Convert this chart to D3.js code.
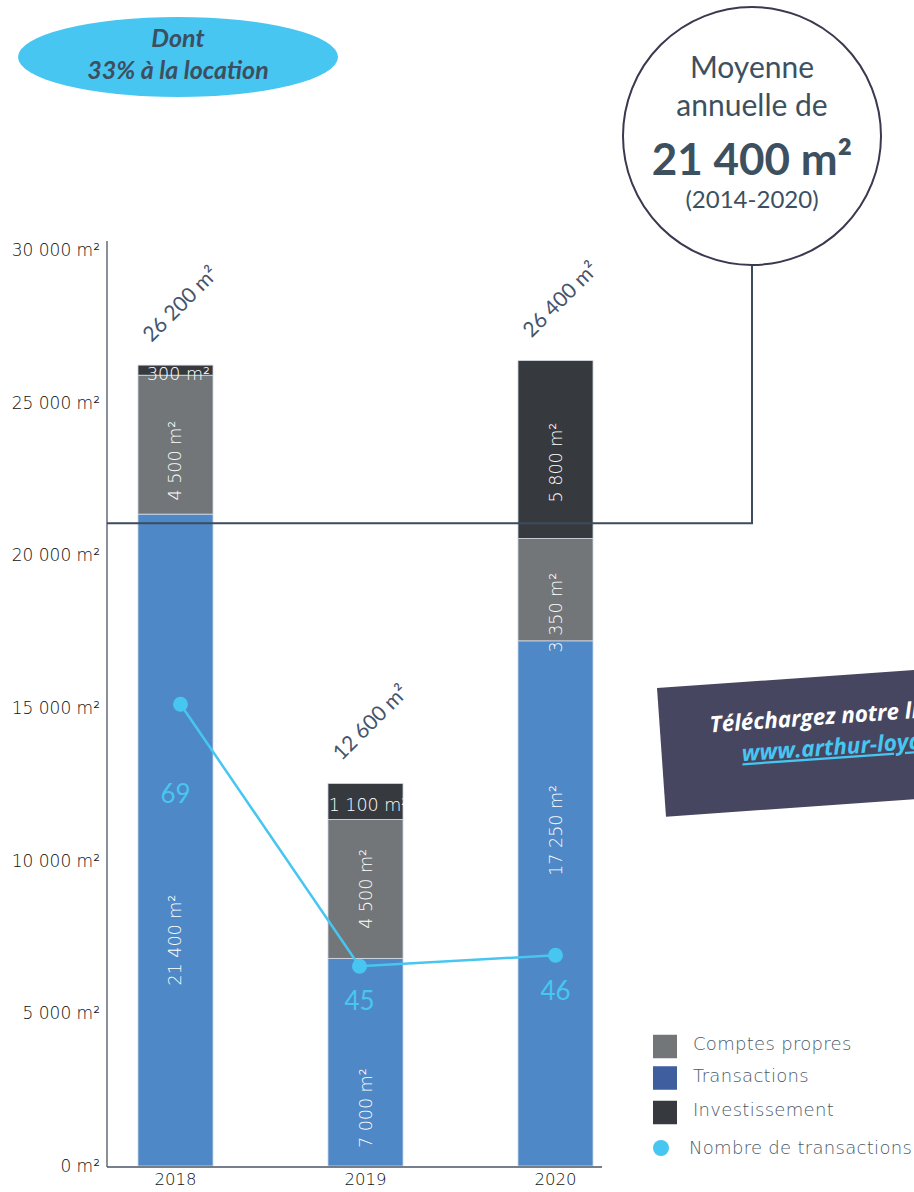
<!DOCTYPE html>
<html>
<head>
<meta charset="utf-8">
<script src="https://cdn.jsdelivr.net/npm/d3@7"></script>
<style>
  html, body { margin: 0; padding: 0; background: #ffffff; overflow: hidden; }
  svg { display: block; }
</style>
</head>
<body>
<script>
// ---------- DATA ----------
const years = ["2018", "2019", "2020"];
const transactions = [21350, 6800, 17200];
const comptesPropres = [4550, 4550, 3350];
const investissement = [330, 1180, 5830];
const transactionsLabels = ["21 400 m²", "7 000 m²", "17 250 m²"];
const comptesLabels = ["4 500 m²", "4 500 m²", "3 350 m²"];
const investLabels = ["300 m²", "1 100 m²", "5 800 m²"];
const totalLabels = ["26 200 m²", "12 600 m²", "26 400 m²"];
const nbTransactions = [69, 45, 46];
const yTicks = [0, 5000, 10000, 15000, 20000, 25000, 30000];
const yTickLabels = ["0 m²", "5 000 m²", "10 000 m²", "15 000 m²", "20 000 m²", "25 000 m²", "30 000 m²"];
const averageValue = 21050;
const legendLabels = ["Comptes propres", "Transactions", "Investissement", "Nombre de transactions"];

// ---------- LAYOUT (not data) ----------
const W = 914, H = 1192;
const colors = { trans: "#4f88c6", comptes: "#727679", invest: "#363a3e", line: "#47c6f2" };
const legendColors = ["#727679", "#3f5ea0", "#363a3e"];
const transLabelDy = [100, 46, -73];
const comptesLabelDy = [16, 0, 23];
const investLabelDy = [4, 4, 13];
const countLabelDy = [89, 34, 35];
const pointDx = [5, -6, 0];

const svg = d3.select("body").append("svg").attr("width", W).attr("height", H);

const x = d3.scaleBand().domain(years).range([107, 624]).paddingInner(0.605).paddingOuter(0.163);
const y = d3.scaleLinear().domain([0, 30000]).range([1166, 250]);
const yCount = d3.scaleLinear().domain([26.7, 110.6]).range([1166, 250]);

const table = years.map((yr, i) => ({
  year: yr, trans: transactions[i], comptes: comptesPropres[i], invest: investissement[i]
}));
const keys = ["trans", "comptes", "invest"];
const series = d3.stack().keys(keys)(table);

// Bars
const g = svg.append("g");
series.forEach(s => {
  g.selectAll(null).data(s).enter().append("rect")
    .attr("x", d => x(d.data.year))
    .attr("width", x.bandwidth())
    .attr("y", d => y(d[1]))
    .attr("height", d => y(d[0]) - y(d[1]))
    .attr("fill", colors[s.key])
    .attr("stroke", "#d5dde8").attr("stroke-width", 0.8);
});

// Segment labels
const segFont = "'DejaVu Sans', sans-serif";
function segLabel(s, labels, dys) {
  s.forEach((d, i) => {
    const cx = x(d.data.year) + x.bandwidth() / 2;
    const cy = (y(d[0]) + y(d[1])) / 2 + dys[i];
    const h = y(d[0]) - y(d[1]);
    const t = svg.append("text")
      .attr("fill", "#ffffff")
      .attr("font-family", segFont)
      .attr("font-size", 17.5)
      .attr("font-weight", 300)
      .attr("text-anchor", "middle")
      .attr("dominant-baseline", "central")
      .text(labels[i]);
    if (h > 60) {
      t.attr("transform", `translate(${cx},${cy}) rotate(-90)`);
    } else {
      t.attr("x", cx + 3).attr("y", cy);
    }
  });
}
segLabel(series[0], transactionsLabels, transLabelDy);
segLabel(series[1], comptesLabels, comptesLabelDy);
segLabel(series[2], investLabels, investLabelDy);

// Total labels (rotated -45)
series[2].forEach((d, i) => {
  const cx = x(d.data.year) + x.bandwidth() / 2 + 4;
  const cy = y(d[1]) - 62;
  svg.append("text")
    .attr("transform", `translate(${cx},${cy}) rotate(-45)`)
    .attr("text-anchor", "middle")
    .attr("dominant-baseline", "central")
    .attr("font-family", "Lato, 'Open Sans', sans-serif")
    .attr("font-size", 21)
    .attr("fill", "#44546a")
    .text(totalLabels[i]);
});

// Axes
const yAxis = d3.axisLeft(y).tickValues(yTicks).tickSize(0).tickPadding(7)
  .tickFormat((d, i) => yTickLabels[i]);
const ya = svg.append("g").attr("transform", "translate(107,0)").call(yAxis);
ya.select(".domain").remove();
ya.selectAll("text").attr("font-family", segFont).attr("font-size", 17).attr("font-weight", 300).attr("fill", "#111111");
svg.append("line").attr("x1", 107).attr("x2", 107).attr("y1", y(30000) - 9).attr("y2", y(0) + 1)
  .attr("stroke", "#4a5563").attr("stroke-width", 1.3);

const xAxis = d3.axisBottom(x).tickSize(0).tickPadding(6);
const xa = svg.append("g").attr("transform", `translate(0,${y(0) + 1})`).call(xAxis);
xa.select(".domain").remove();
xa.selectAll("text").attr("font-family", segFont).attr("font-size", 16.5).attr("font-weight", 300).attr("fill", "#111111");
svg.append("line").attr("x1", 107).attr("x2", 602).attr("y1", y(0) + 1).attr("y2", y(0) + 1)
  .attr("stroke", "#4a5563").attr("stroke-width", 1.3);

// Average line + connector to circle
const circ = { cx: 752, cy: 136, r: 129 };
svg.append("path")
  .attr("d", `M107,${y(averageValue)} H${circ.cx} V${circ.cy + circ.r}`)
  .attr("fill", "none").attr("stroke", "#3d4b5c").attr("stroke-width", 2);

// Line series (nombre de transactions)
const linePts = nbTransactions.map((v, i) => [x(years[i]) + x.bandwidth() / 2 + pointDx[i], yCount(v)]);
svg.append("path").attr("d", d3.line()(linePts))
  .attr("fill", "none").attr("stroke", colors.line).attr("stroke-width", 2.5);
svg.selectAll(null).data(linePts).enter().append("circle")
  .attr("cx", d => d[0]).attr("cy", d => d[1]).attr("r", 7.5).attr("fill", colors.line);
svg.selectAll(null).data(linePts).enter().append("text")
  .attr("x", (d, i) => x(years[i]) + x.bandwidth() / 2 - (i === 1 ? 6 : 0)).attr("y", (d, i) => d[1] + countLabelDy[i])
  .attr("text-anchor", "middle").attr("dominant-baseline", "central")
  .attr("font-family", "Lato, 'Open Sans', sans-serif").attr("font-size", 26)
  .attr("fill", colors.line)
  .text((d, i) => nbTransactions[i]);

// Circle annotation
svg.append("circle").attr("cx", circ.cx).attr("cy", circ.cy).attr("r", circ.r)
  .attr("fill", "#ffffff").attr("stroke", "#3b3850").attr("stroke-width", 2);
const cText = [
  { t: "Moyenne", y: 66, s: 30, w: 400 },
  { t: "annuelle de", y: 104, s: 30, w: 400 },
  { t: "21 400 m²", y: 158, s: 44, w: 700 },
  { t: "(2014-2020)", y: 198, s: 24, w: 400 }
];
cText.forEach(c => {
  svg.append("text").attr("x", circ.cx).attr("y", c.y)
    .attr("text-anchor", "middle").attr("dominant-baseline", "central")
    .attr("font-family", "Lato, 'Open Sans', sans-serif")
    .attr("font-size", c.s).attr("font-weight", c.w).attr("fill", "#3d5060")
    .text(c.t);
});

// Ellipse annotation
svg.append("ellipse").attr("cx", 178).attr("cy", 57).attr("rx", 160).attr("ry", 40).attr("fill", "#47c6f2");
[["Dont", 37], ["33% à la location", 69]].forEach(([t, yy]) => {
  svg.append("text").attr("x", 178).attr("y", yy)
    .attr("text-anchor", "middle").attr("dominant-baseline", "central")
    .attr("font-family", "Lato, 'Open Sans', sans-serif").attr("font-size", 25)
    .attr("font-weight", 700).attr("font-style", "italic").attr("fill", "#3d4f5f")
    .text(t);
});

// Tilted download box
const box = svg.append("g").attr("transform", "translate(657,688) rotate(-4)");
box.append("rect").attr("x", 0).attr("y", 0).attr("width", 420).attr("height", 129).attr("fill", "#474660");
box.append("text").attr("x", 50).attr("y", 48)
  .attr("font-family", "'Open Sans', Lato, sans-serif").attr("font-size", 22.5)
  .attr("font-weight", 700).attr("font-style", "italic").attr("fill", "#ffffff")
  .text("Téléchargez notre livre blanc");
box.append("text").attr("x", 80).attr("y", 79)
  .attr("font-family", "'Open Sans', Lato, sans-serif").attr("font-size", 22.5)
  .attr("font-weight", 700).attr("font-style", "italic").attr("fill", "#47c6f2")
  .attr("text-decoration", "underline")
  .text("www.arthur-loyd.com");

// Legend
const legY = [1046.5, 1078, 1112.5];
const legFont = { size: 18, ls: 0.3 };
legendColors.forEach((c, i) => {
  svg.append("rect").attr("x", 653).attr("y", legY[i] - 11.75).attr("width", 24).attr("height", 23.5).attr("fill", c);
  svg.append("text").attr("x", 693).attr("y", legY[i] - 3)
    .attr("dominant-baseline", "central")
    .attr("font-family", segFont).attr("font-size", legFont.size).attr("font-weight", 300)
    .attr("letter-spacing", legFont.ls).attr("fill", "#4a5a6a")
    .text(legendLabels[i]);
});
svg.append("circle").attr("cx", 661).attr("cy", 1148).attr("r", 8).attr("fill", colors.line);
svg.append("text").attr("x", 689).attr("y", 1147)
  .attr("dominant-baseline", "central")
  .attr("font-family", segFont).attr("font-size", legFont.size).attr("font-weight", 300)
  .attr("letter-spacing", legFont.ls).attr("fill", "#4a5a6a")
  .text(legendLabels[3]);
</script>
</body>
</html>
